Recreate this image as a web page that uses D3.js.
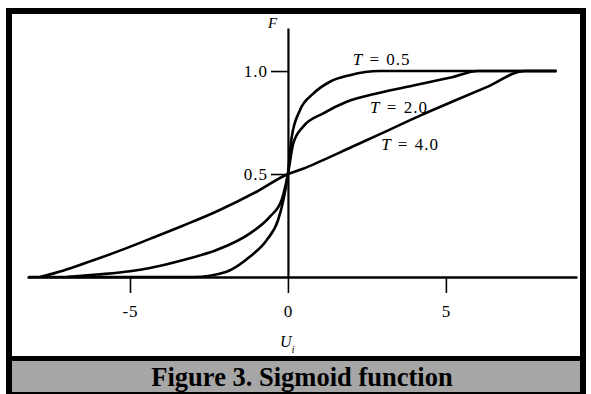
<!DOCTYPE html>
<html>
<head>
<meta charset="utf-8">
<script src="https://cdn.jsdelivr.net/npm/d3@7"></script>
<style>
  html, body { margin: 0; padding: 0; background: #fff; }
  svg { display: block; }
  text { font-family: "Liberation Serif", "DejaVu Serif", serif; fill: #000; }
</style>
</head>
<body>
<svg id="chart" width="591" height="394"></svg>
<script>
// ---- data ----
const xTicks = [-5, 0, 5];
const yTicks = [0.5, 1.0];

const uT05 = [-8.2, -3.0, -1.94, -1.2, -0.67, -0.31, -0.15, 0, 0.12, 0.38, 0.8, 1.33, 1.96, 2.9, 8.5];
const fT05 = [0, 0, 0.026, 0.099, 0.18, 0.277, 0.37, 0.5, 0.68, 0.81, 0.89, 0.948, 0.98, 1.0, 1.0];

const uT20 = [-7.0, -6.05, -5.0, -4.37, -3.31, -2.26, -1.2, -0.57, -0.2, 0, 0.17, 0.48, 1.12, 1.86, 2.91, 3.97, 4.49, 5.2, 6.02, 8.5];
const fT20 = [0, 0.012, 0.028, 0.044, 0.083, 0.131, 0.212, 0.293, 0.374, 0.5, 0.649, 0.73, 0.795, 0.851, 0.895, 0.93, 0.947, 0.97, 1.0, 1.0];

const uT40 = [-7.85, -7.1, -6.37, -5.32, -4.37, -3.31, -2.26, -0.99, 0, 0.5, 1.0, 2.0, 3.0, 4.2, 5.23, 6.29, 7.5, 8.5];
const fT40 = [0, 0.032, 0.07, 0.128, 0.185, 0.25, 0.318, 0.414, 0.5, 0.527, 0.56, 0.63, 0.70, 0.785, 0.853, 0.922, 1.0, 1.0];

const seriesLabels = ["0.5", "2.0", "4.0"];
const labelPos = [[2.05, 1.03], [2.6, 0.795], [2.95, 0.615]]; // [u, F] start anchor of "T = ..." labels

// ---- drawing ----
const svg = d3.select("#chart");

// frame
svg.append("rect").attr("x", 6).attr("y", 8).attr("width", 580).attr("height", 386).attr("fill", "#000");
svg.append("rect").attr("x", 12).attr("y", 14).attr("width", 568).attr("height", 342).attr("fill", "#fff");
svg.append("rect").attr("x", 12).attr("y", 361).attr("width", 568).attr("height", 31).attr("fill", "#a6a6a6");

svg.append("text")
  .attr("x", 302).attr("y", 386)
  .attr("text-anchor", "middle")
  .style("font-size", "26.5px").style("font-weight", "bold")
  .text("Figure 3. Sigmoid function");

// scales
const x = d3.scaleLinear().domain([-8.26, 9.15]).range([27, 577]);
const y = d3.scaleLinear().domain([0, 1.209]).range([277, 28]);

// x axis
const gx = svg.append("g").attr("transform", `translate(0,${y(0)})`)
  .call(d3.axisBottom(x).tickValues(xTicks).tickSize(16).tickSizeOuter(0).tickPadding(12)
        .tickFormat(d => String(d)));
gx.select(".domain").attr("stroke", "#000").attr("stroke-width", 2.5);
gx.selectAll(".tick line").attr("stroke", "#000").attr("stroke-width", 1.6);
gx.selectAll(".tick text").style("font-size", "17px").style("letter-spacing", "1px")
  .style("font-family", "Liberation Serif, serif");

// y axis
const gy = svg.append("g").attr("transform", `translate(${x(0)},0)`)
  .call(d3.axisLeft(y).tickValues(yTicks).tickSize(17).tickSizeOuter(0).tickPadding(3)
        .tickFormat(d3.format(".1f")));
gy.select(".domain").attr("stroke", "#000").attr("stroke-width", 2.2);
gy.selectAll(".tick line").attr("stroke", "#000").attr("stroke-width", 1.6);
gy.selectAll(".tick text").style("font-size", "17px").style("letter-spacing", "1px")
  .style("font-family", "Liberation Serif, serif");

// axis titles
svg.append("text").attr("x", x(0) - 20).attr("y", 28)
  .style("font-size", "15px").style("font-style", "italic").text("F");
const ut = svg.append("text").attr("x", x(0) - 8).attr("y", 347)
  .style("font-size", "16px").style("font-style", "italic");
ut.append("tspan").text("U");
ut.append("tspan").attr("dy", 6).style("font-size", "11px").text("i");

// curves
const line = d3.line().x(d => x(d[0])).y(d => y(d[1])).curve(d3.curveMonotoneX);
const curves = [
  d3.zip(uT05, fT05),
  d3.zip(uT20, fT20),
  d3.zip(uT40, fT40)
];
svg.append("g").selectAll("path").data(curves).join("path")
  .attr("d", line)
  .attr("fill", "none")
  .attr("stroke", "#000")
  .attr("stroke-width", 2.6)
  .attr("stroke-linejoin", "round");

// series labels
seriesLabels.forEach((lab, i) => {
  const t = svg.append("text")
    .attr("x", x(labelPos[i][0])).attr("y", y(labelPos[i][1]))
    .style("font-size", "17px").style("letter-spacing", "1px").style("word-spacing", "1px");
  t.append("tspan").style("font-style", "italic").text("T");
  t.append("tspan").text(" = " + lab);
});
</script>
</body>
</html>
